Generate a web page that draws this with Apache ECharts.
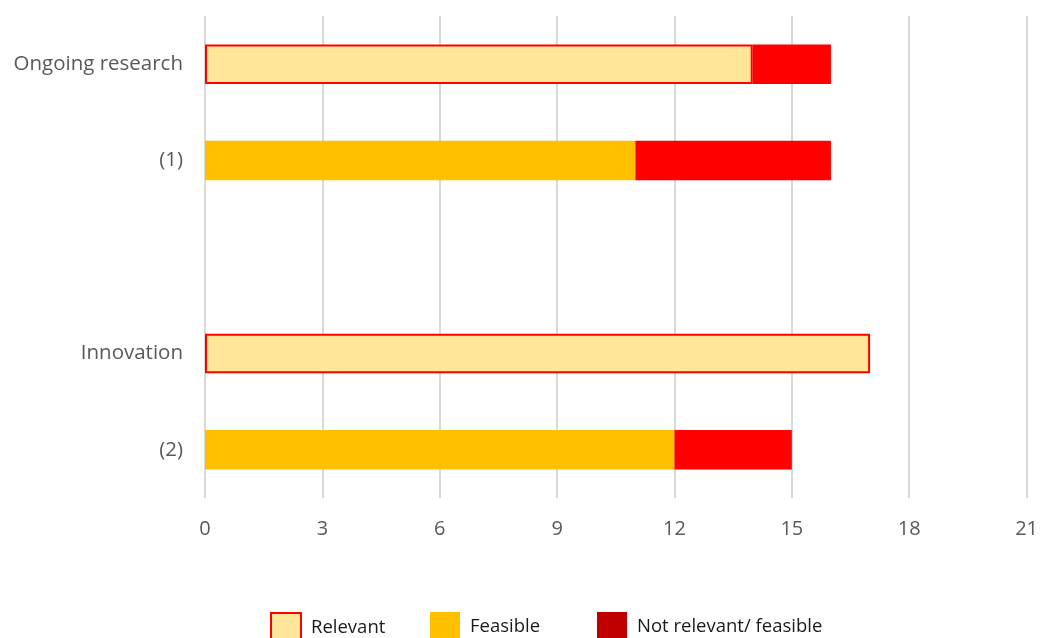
<!DOCTYPE html>
<html>
<head>
<meta charset="utf-8">
<script src="https://cdn.jsdelivr.net/npm/echarts@6/dist/echarts.min.js"></script>
<style>
  html, body { margin: 0; padding: 0; background: #fff; }
  #chart { width: 1041px; height: 638px; }
</style>
</head>
<body>
<div id="chart"></div>
<script>
// Categories top to bottom (blank row separates the two groups)
const categories = ['Ongoing research', '(1)', '', 'Innovation', '(2)'];
const relevant = [14, '-', '-', 17, '-'];
const feasible = ['-', 11, '-', '-', 12];
const notRelevantFeasible = [2, 5, '-', '-', 3];
const xTicks = { min: 0, max: 21, interval: 3 };

const labelFont = 'Open Sans, Liberation Sans, sans-serif';
const chart = echarts.init(document.getElementById('chart'));

const legendBase = {
  top: 612,
  padding: 0,
  icon: 'rect',
  itemWidth: 30,
  itemHeight: 30,
  itemGap: 10,
  textStyle: { color: '#1a1a1a', fontSize: 18.5, fontFamily: labelFont, padding: [4, 0, 0, 5] }
};

chart.setOption({
  animation: false,
  grid: { left: 205, right: 13, top: 16, bottom: 140, containLabel: false },
  xAxis: {
    type: 'value',
    min: xTicks.min, max: xTicks.max, interval: xTicks.interval,
    axisLine: { show: false },
    axisTick: { show: false },
    axisLabel: { color: '#595959', fontSize: 20, fontFamily: labelFont, margin: 21 },
    splitLine: { lineStyle: { color: '#D9D9D9', width: 2 } }
  },
  yAxis: {
    type: 'category',
    data: categories,
    inverse: true,
    axisLine: { show: false },
    axisTick: { show: false },
    axisLabel: { color: '#595959', fontSize: 20.5, fontFamily: labelFont, margin: 22 }
  },
  legend: [
    Object.assign({}, legendBase, { left: 270, data: ['Relevant'] }),
    Object.assign({}, legendBase, { left: 430, data: ['Feasible'] }),
    Object.assign({}, legendBase, { left: 597, data: ['Not relevant/ feasible'] })
  ],
  series: [
    {
      name: 'Relevant', type: 'bar', stack: 'total', barWidth: '41%',
      itemStyle: { color: '#FFE699', borderColor: '#FF0000', borderWidth: 2 },
      data: relevant
    },
    {
      name: 'Feasible', type: 'bar', stack: 'total', barWidth: '41%',
      itemStyle: { color: '#FFC000' },
      data: feasible
    },
    {
      name: 'Not relevant/ feasible', type: 'bar', stack: 'total', barWidth: '41%',
      itemStyle: { color: '#C00000' },
      data: notRelevantFeasible.map(v => v === '-' ? v : { value: v, itemStyle: { color: '#FF0000' } })
    }
  ]
});
</script>
</body>
</html>
